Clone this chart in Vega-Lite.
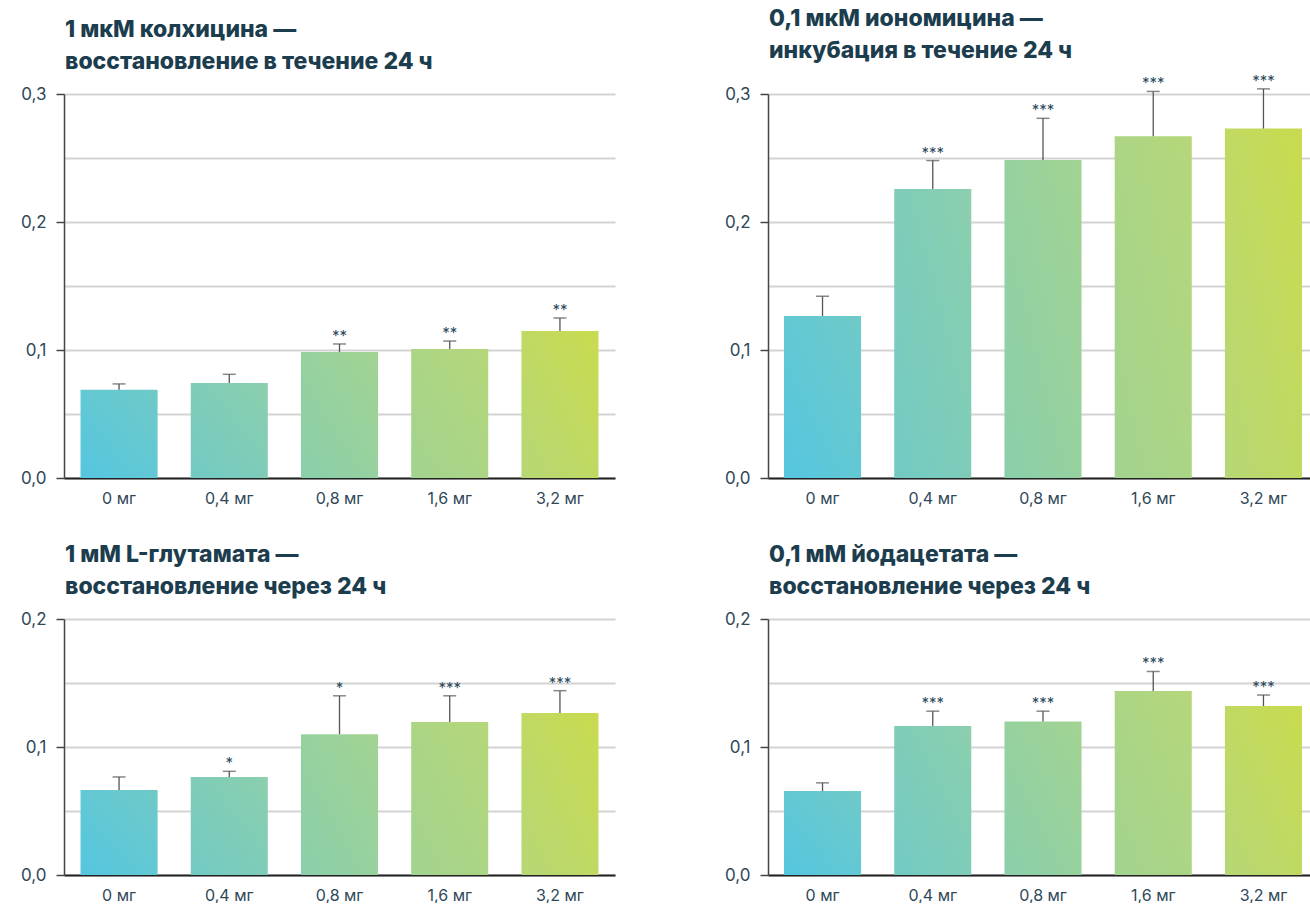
{
  "$schema": "https://vega.github.io/schema/vega-lite/v6.json",
  "padding": {"left": 20, "top": 7, "right": 0, "bottom": 0},
  "background": "white",
  "config": {
    "view": {"stroke": null},
    "font": "Inter",
    "title": {"anchor": "start", "frame": "group", "fontSize": 23, "fontWeight": 800, "color": "#1c3d4e", "lineHeight": 32, "dx": 1, "offset": 11, "font": "Inter"},
    "axisY": {
      "tickSize": 8, "tickColor": "#444444", "tickWidth": 1.5,
      "domainColor": "#444444", "domainWidth": 1.5,
      "gridColor": "#d3d3d3", "gridWidth": 2,
      "labelFontSize": 17, "labelColor": "#2f4858", "labelPadding": 10, "labelFont": "Inter", "title": null
    },
    "axisX": {
      "ticks": false, "domainColor": "#222222", "domainWidth": 2, "labelAngle": 0,
      "labelFontSize": 16, "labelColor": "#2f4858", "labelPadding": 12, "labelFont": "Inter", "title": null, "grid": false
    }
  },
  "data": {
    "values": [
      {"panel": "A", "dose": "0 мг", "value": 0.069, "err": 0.0735, "sig": ""},
      {"panel": "A", "dose": "0,4 мг", "value": 0.0742, "err": 0.081, "sig": ""},
      {"panel": "A", "dose": "0,8 мг", "value": 0.0985, "err": 0.1047, "sig": "**"},
      {"panel": "A", "dose": "1,6 мг", "value": 0.1008, "err": 0.107, "sig": "**"},
      {"panel": "A", "dose": "3,2 мг", "value": 0.1148, "err": 0.125, "sig": "**"},
      {"panel": "B", "dose": "0 мг", "value": 0.1266, "err": 0.142, "sig": ""},
      {"panel": "B", "dose": "0,4 мг", "value": 0.2258, "err": 0.248, "sig": "***"},
      {"panel": "B", "dose": "0,8 мг", "value": 0.2484, "err": 0.281, "sig": "***"},
      {"panel": "B", "dose": "1,6 мг", "value": 0.267, "err": 0.302, "sig": "***"},
      {"panel": "B", "dose": "3,2 мг", "value": 0.273, "err": 0.304, "sig": "***"},
      {"panel": "C", "dose": "0 мг", "value": 0.0664, "err": 0.0766, "sig": ""},
      {"panel": "C", "dose": "0,4 мг", "value": 0.0766, "err": 0.081, "sig": "*"},
      {"panel": "C", "dose": "0,8 мг", "value": 0.110, "err": 0.140, "sig": "*"},
      {"panel": "C", "dose": "1,6 мг", "value": 0.1195, "err": 0.140, "sig": "***"},
      {"panel": "C", "dose": "3,2 мг", "value": 0.1266, "err": 0.144, "sig": "***"},
      {"panel": "D", "dose": "0 мг", "value": 0.0656, "err": 0.072, "sig": ""},
      {"panel": "D", "dose": "0,4 мг", "value": 0.1164, "err": 0.128, "sig": "***"},
      {"panel": "D", "dose": "0,8 мг", "value": 0.120, "err": 0.128, "sig": "***"},
      {"panel": "D", "dose": "1,6 мг", "value": 0.1437, "err": 0.159, "sig": "***"},
      {"panel": "D", "dose": "3,2 мг", "value": 0.132, "err": 0.1406, "sig": "***"}
    ]
  },
  "spacing": 38,
  "vconcat": [
    {
      "spacing": 109,
      "hconcat": [
        {
          "title": {"text": ["1 мкМ колхицина —", "восстановление в течение 24 ч"]},
          "width": 551, "height": 384,
          "transform": [{"filter": "datum.panel == 'A'"}],
          "encoding": {
            "x": {"field": "dose", "type": "nominal", "sort": ["0 мг", "0,4 мг", "0,8 мг", "1,6 мг", "3,2 мг"], "scale": {"paddingInner": 0.301, "paddingOuter": 0.15, "align": 0.5}},
            "y": {"field": "value", "type": "quantitative", "title": null, "scale": {"domain": [0, 0.3], "nice": false},
              "axis": {"values": [0, 0.05, 0.1, 0.15, 0.2, 0.25, 0.3],
                "labelExpr": "abs(datum.value*10-round(datum.value*10))<0.001 ? replace(format(datum.value,'.1f'),'.',',') : ''",
                "tickOpacity": {"condition": {"test": "abs(datum.value*10-round(datum.value*10))<0.001", "value": 1}, "value": 0}}}
          },
          "layer": [
            {"transform": [{"filter": "datum.dose == '0 мг'"}], "mark": {"type": "bar", "color": {"gradient": "linear", "x1": 0, "y1": 1, "x2": 1, "y2": 0, "stops": [{"offset": 0, "color": "#55c6e0"}, {"offset": 1, "color": "#6fcac7"}]}}},
            {"transform": [{"filter": "datum.dose == '0,4 мг'"}], "mark": {"type": "bar", "color": {"gradient": "linear", "x1": 0, "y1": 1, "x2": 1, "y2": 0, "stops": [{"offset": 0, "color": "#72cac4"}, {"offset": 1, "color": "#8bcfad"}]}}},
            {"transform": [{"filter": "datum.dose == '0,8 мг'"}], "mark": {"type": "bar", "color": {"gradient": "linear", "x1": 0, "y1": 1, "x2": 1, "y2": 0, "stops": [{"offset": 0, "color": "#8acfab"}, {"offset": 1, "color": "#a2d392"}]}}},
            {"transform": [{"filter": "datum.dose == '1,6 мг'"}], "mark": {"type": "bar", "color": {"gradient": "linear", "x1": 0, "y1": 1, "x2": 1, "y2": 0, "stops": [{"offset": 0, "color": "#a2d390"}, {"offset": 1, "color": "#b5d779"}]}}},
            {"transform": [{"filter": "datum.dose == '3,2 мг'"}], "mark": {"type": "bar", "color": {"gradient": "linear", "x1": 0, "y1": 1, "x2": 1, "y2": 0, "stops": [{"offset": 0, "color": "#b6d776"}, {"offset": 1, "color": "#c9db4e"}]}}},
            {"mark": {"type": "rule", "color": "#555555", "strokeWidth": 1.3}, "encoding": {"y2": {"field": "err"}}},
            {"mark": {"type": "tick", "color": "#555555", "size": 13, "thickness": 1.5}, "encoding": {"y": {"field": "err", "type": "quantitative", "title": null}}},
            {"mark": {"type": "text", "dy": -3, "baseline": "alphabetic", "fontSize": 15, "color": "#2b4a5b"}, "encoding": {"y": {"field": "err", "type": "quantitative", "title": null}, "text": {"field": "sig"}}}
          ]
        },
        {
          "title": {"text": ["0,1 мкМ иономицина —", "инкубация в течение 24 ч"]},
          "width": 543, "height": 384,
          "transform": [{"filter": "datum.panel == 'B'"}],
          "encoding": {
            "x": {"field": "dose", "type": "nominal", "sort": ["0 мг", "0,4 мг", "0,8 мг", "1,6 мг", "3,2 мг"], "scale": {"paddingInner": 0.301, "paddingOuter": 0.1134, "align": 0.64}},
            "y": {"field": "value", "type": "quantitative", "title": null, "scale": {"domain": [0, 0.3], "nice": false},
              "axis": {"values": [0, 0.05, 0.1, 0.15, 0.2, 0.25, 0.3],
                "labelExpr": "abs(datum.value*10-round(datum.value*10))<0.001 ? replace(format(datum.value,'.1f'),'.',',') : ''",
                "tickOpacity": {"condition": {"test": "abs(datum.value*10-round(datum.value*10))<0.001", "value": 1}, "value": 0}}}
          },
          "layer": [
            {"transform": [{"filter": "datum.dose == '0 мг'"}], "mark": {"type": "bar", "color": {"gradient": "linear", "x1": 0, "y1": 1, "x2": 1, "y2": 0, "stops": [{"offset": 0, "color": "#55c6e0"}, {"offset": 1, "color": "#6fcac7"}]}}},
            {"transform": [{"filter": "datum.dose == '0,4 мг'"}], "mark": {"type": "bar", "color": {"gradient": "linear", "x1": 0, "y1": 1, "x2": 1, "y2": 0, "stops": [{"offset": 0, "color": "#72cac4"}, {"offset": 1, "color": "#8bcfad"}]}}},
            {"transform": [{"filter": "datum.dose == '0,8 мг'"}], "mark": {"type": "bar", "color": {"gradient": "linear", "x1": 0, "y1": 1, "x2": 1, "y2": 0, "stops": [{"offset": 0, "color": "#8acfab"}, {"offset": 1, "color": "#a2d392"}]}}},
            {"transform": [{"filter": "datum.dose == '1,6 мг'"}], "mark": {"type": "bar", "color": {"gradient": "linear", "x1": 0, "y1": 1, "x2": 1, "y2": 0, "stops": [{"offset": 0, "color": "#a2d390"}, {"offset": 1, "color": "#b5d779"}]}}},
            {"transform": [{"filter": "datum.dose == '3,2 мг'"}], "mark": {"type": "bar", "color": {"gradient": "linear", "x1": 0, "y1": 1, "x2": 1, "y2": 0, "stops": [{"offset": 0, "color": "#b6d776"}, {"offset": 1, "color": "#c9db4e"}]}}},
            {"mark": {"type": "rule", "color": "#555555", "strokeWidth": 1.3}, "encoding": {"y2": {"field": "err"}}},
            {"mark": {"type": "tick", "color": "#555555", "size": 13, "thickness": 1.5}, "encoding": {"y": {"field": "err", "type": "quantitative", "title": null}}},
            {"mark": {"type": "text", "dy": -3, "baseline": "alphabetic", "fontSize": 15, "color": "#2b4a5b"}, "encoding": {"y": {"field": "err", "type": "quantitative", "title": null}, "text": {"field": "sig"}}}
          ]
        }
      ]
    },
    {
      "spacing": 109,
      "hconcat": [
        {
          "title": {"text": ["1 мМ L-глутамата —", "восстановление через 24 ч"]},
          "width": 551, "height": 256,
          "transform": [{"filter": "datum.panel == 'C'"}],
          "encoding": {
            "x": {"field": "dose", "type": "nominal", "sort": ["0 мг", "0,4 мг", "0,8 мг", "1,6 мг", "3,2 мг"], "scale": {"paddingInner": 0.301, "paddingOuter": 0.15, "align": 0.5}},
            "y": {"field": "value", "type": "quantitative", "title": null, "scale": {"domain": [0, 0.2], "nice": false},
              "axis": {"values": [0, 0.05, 0.1, 0.15, 0.2],
                "labelExpr": "abs(datum.value*10-round(datum.value*10))<0.001 ? replace(format(datum.value,'.1f'),'.',',') : ''",
                "tickOpacity": {"condition": {"test": "abs(datum.value*10-round(datum.value*10))<0.001", "value": 1}, "value": 0}}}
          },
          "layer": [
            {"transform": [{"filter": "datum.dose == '0 мг'"}], "mark": {"type": "bar", "color": {"gradient": "linear", "x1": 0, "y1": 1, "x2": 1, "y2": 0, "stops": [{"offset": 0, "color": "#55c6e0"}, {"offset": 1, "color": "#6fcac7"}]}}},
            {"transform": [{"filter": "datum.dose == '0,4 мг'"}], "mark": {"type": "bar", "color": {"gradient": "linear", "x1": 0, "y1": 1, "x2": 1, "y2": 0, "stops": [{"offset": 0, "color": "#72cac4"}, {"offset": 1, "color": "#8bcfad"}]}}},
            {"transform": [{"filter": "datum.dose == '0,8 мг'"}], "mark": {"type": "bar", "color": {"gradient": "linear", "x1": 0, "y1": 1, "x2": 1, "y2": 0, "stops": [{"offset": 0, "color": "#8acfab"}, {"offset": 1, "color": "#a2d392"}]}}},
            {"transform": [{"filter": "datum.dose == '1,6 мг'"}], "mark": {"type": "bar", "color": {"gradient": "linear", "x1": 0, "y1": 1, "x2": 1, "y2": 0, "stops": [{"offset": 0, "color": "#a2d390"}, {"offset": 1, "color": "#b5d779"}]}}},
            {"transform": [{"filter": "datum.dose == '3,2 мг'"}], "mark": {"type": "bar", "color": {"gradient": "linear", "x1": 0, "y1": 1, "x2": 1, "y2": 0, "stops": [{"offset": 0, "color": "#b6d776"}, {"offset": 1, "color": "#c9db4e"}]}}},
            {"mark": {"type": "rule", "color": "#555555", "strokeWidth": 1.3}, "encoding": {"y2": {"field": "err"}}},
            {"mark": {"type": "tick", "color": "#555555", "size": 13, "thickness": 1.5}, "encoding": {"y": {"field": "err", "type": "quantitative", "title": null}}},
            {"mark": {"type": "text", "dy": -3, "baseline": "alphabetic", "fontSize": 15, "color": "#2b4a5b"}, "encoding": {"y": {"field": "err", "type": "quantitative", "title": null}, "text": {"field": "sig"}}}
          ]
        },
        {
          "title": {"text": ["0,1 мМ йодацетата —", "восстановление через 24 ч"]},
          "width": 543, "height": 256,
          "transform": [{"filter": "datum.panel == 'D'"}],
          "encoding": {
            "x": {"field": "dose", "type": "nominal", "sort": ["0 мг", "0,4 мг", "0,8 мг", "1,6 мг", "3,2 мг"], "scale": {"paddingInner": 0.301, "paddingOuter": 0.1134, "align": 0.64}},
            "y": {"field": "value", "type": "quantitative", "title": null, "scale": {"domain": [0, 0.2], "nice": false},
              "axis": {"values": [0, 0.05, 0.1, 0.15, 0.2],
                "labelExpr": "abs(datum.value*10-round(datum.value*10))<0.001 ? replace(format(datum.value,'.1f'),'.',',') : ''",
                "tickOpacity": {"condition": {"test": "abs(datum.value*10-round(datum.value*10))<0.001", "value": 1}, "value": 0}}}
          },
          "layer": [
            {"transform": [{"filter": "datum.dose == '0 мг'"}], "mark": {"type": "bar", "color": {"gradient": "linear", "x1": 0, "y1": 1, "x2": 1, "y2": 0, "stops": [{"offset": 0, "color": "#55c6e0"}, {"offset": 1, "color": "#6fcac7"}]}}},
            {"transform": [{"filter": "datum.dose == '0,4 мг'"}], "mark": {"type": "bar", "color": {"gradient": "linear", "x1": 0, "y1": 1, "x2": 1, "y2": 0, "stops": [{"offset": 0, "color": "#72cac4"}, {"offset": 1, "color": "#8bcfad"}]}}},
            {"transform": [{"filter": "datum.dose == '0,8 мг'"}], "mark": {"type": "bar", "color": {"gradient": "linear", "x1": 0, "y1": 1, "x2": 1, "y2": 0, "stops": [{"offset": 0, "color": "#8acfab"}, {"offset": 1, "color": "#a2d392"}]}}},
            {"transform": [{"filter": "datum.dose == '1,6 мг'"}], "mark": {"type": "bar", "color": {"gradient": "linear", "x1": 0, "y1": 1, "x2": 1, "y2": 0, "stops": [{"offset": 0, "color": "#a2d390"}, {"offset": 1, "color": "#b5d779"}]}}},
            {"transform": [{"filter": "datum.dose == '3,2 мг'"}], "mark": {"type": "bar", "color": {"gradient": "linear", "x1": 0, "y1": 1, "x2": 1, "y2": 0, "stops": [{"offset": 0, "color": "#b6d776"}, {"offset": 1, "color": "#c9db4e"}]}}},
            {"mark": {"type": "rule", "color": "#555555", "strokeWidth": 1.3}, "encoding": {"y2": {"field": "err"}}},
            {"mark": {"type": "tick", "color": "#555555", "size": 13, "thickness": 1.5}, "encoding": {"y": {"field": "err", "type": "quantitative", "title": null}}},
            {"mark": {"type": "text", "dy": -3, "baseline": "alphabetic", "fontSize": 15, "color": "#2b4a5b"}, "encoding": {"y": {"field": "err", "type": "quantitative", "title": null}, "text": {"field": "sig"}}}
          ]
        }
      ]
    }
  ]
}
